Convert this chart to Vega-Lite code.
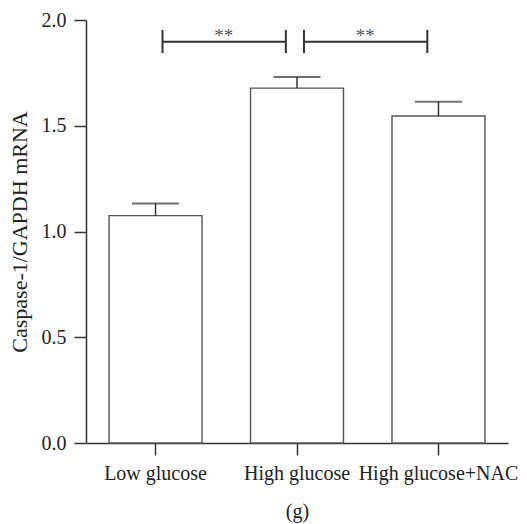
{
  "$schema": "https://vega.github.io/schema/vega-lite/v6.json",
  "width": 422,
  "height": 423,
  "autosize": "none",
  "padding": {"left": 86, "top": 20, "right": 19, "bottom": 81},
  "background": "white",
  "config": {
    "view": {"stroke": null},
    "font": "Liberation Serif",
    "axis": {
      "labelFont": "Liberation Serif",
      "titleFont": "Liberation Serif",
      "labelColor": "#222",
      "titleColor": "#222",
      "domainColor": "#333",
      "tickColor": "#333",
      "domainWidth": 1.5,
      "tickWidth": 1.5,
      "tickSize": 12,
      "grid": false,
      "titleFontWeight": "normal"
    }
  },
  "datasets": {
    "bars": [
      {"group": "Low glucose", "value": 1.075, "upper": 1.132},
      {"group": "High glucose", "value": 1.678, "upper": 1.730},
      {"group": "High glucose+NAC", "value": 1.546, "upper": 1.614}
    ],
    "sig": [
      {"from": "Low glucose", "to": "High glucose", "y": 1.897, "top": 1.953, "bottom": 1.844, "label": "**"},
      {"from": "High glucose", "to": "High glucose+NAC", "y": 1.897, "top": 1.953, "bottom": 1.844, "label": "**"}
    ]
  },
  "layer": [
    {
      "data": {"name": "bars"},
      "mark": {"type": "bar", "fill": "white", "stroke": "#555", "strokeWidth": 1.4},
      "encoding": {
        "x": {
          "field": "group", "type": "nominal", "sort": null,
          "scale": {"paddingInner": 0.343, "paddingOuter": 0.163},
          "axis": {"title": "(g)", "labelAngle": 0, "labelFontSize": 20, "labelPadding": 8, "titleFontSize": 20, "titlePadding": 18}
        },
        "y": {
          "field": "value", "type": "quantitative",
          "scale": {"domain": [0, 2], "nice": false},
          "axis": {"title": "Caspase-1/GAPDH mRNA", "values": [0, 0.5, 1, 1.5, 2], "format": ".1f", "labelFontSize": 20, "labelPadding": 8, "titleFontSize": 22, "titlePadding": 10}
        }
      }
    },
    {
      "data": {"name": "bars"},
      "mark": {"type": "rule", "color": "#333", "strokeWidth": 1.5},
      "encoding": {
        "x": {"field": "group", "type": "nominal", "sort": null},
        "y": {"field": "value", "type": "quantitative"},
        "y2": {"field": "upper"}
      }
    },
    {
      "data": {"name": "bars"},
      "mark": {"type": "tick", "color": "#333", "thickness": 2, "size": 47},
      "encoding": {
        "x": {"field": "group", "type": "nominal", "sort": null},
        "y": {"field": "upper", "type": "quantitative"}
      }
    },
    {
      "data": {"name": "sig"},
      "mark": {"type": "rule", "color": "#333", "strokeWidth": 2},
      "encoding": {
        "x": {"field": "from", "type": "nominal", "sort": null, "bandPosition": 0.575},
        "x2": {"field": "to", "bandPosition": 0.38},
        "y": {"field": "y", "type": "quantitative"}
      }
    },
    {
      "data": {"name": "sig"},
      "mark": {"type": "rule", "color": "#333", "strokeWidth": 2},
      "encoding": {
        "x": {"field": "from", "type": "nominal", "sort": null, "bandPosition": 0.575},
        "y": {"field": "top", "type": "quantitative"},
        "y2": {"field": "bottom"}
      }
    },
    {
      "data": {"name": "sig"},
      "mark": {"type": "rule", "color": "#333", "strokeWidth": 2},
      "encoding": {
        "x": {"field": "to", "type": "nominal", "sort": null, "bandPosition": 0.38},
        "y": {"field": "top", "type": "quantitative"},
        "y2": {"field": "bottom"}
      }
    },
    {
      "data": {"name": "sig"},
      "mark": {"type": "text", "color": "#555", "fontSize": 19, "baseline": "alphabetic", "align": "center", "font": "Liberation Serif"},
      "encoding": {
        "x": {"field": "from", "type": "nominal", "sort": null, "bandPosition": 1.235},
        "y": {"field": "y", "type": "quantitative"},
        "text": {"field": "label"}
      }
    }
  ]
}
